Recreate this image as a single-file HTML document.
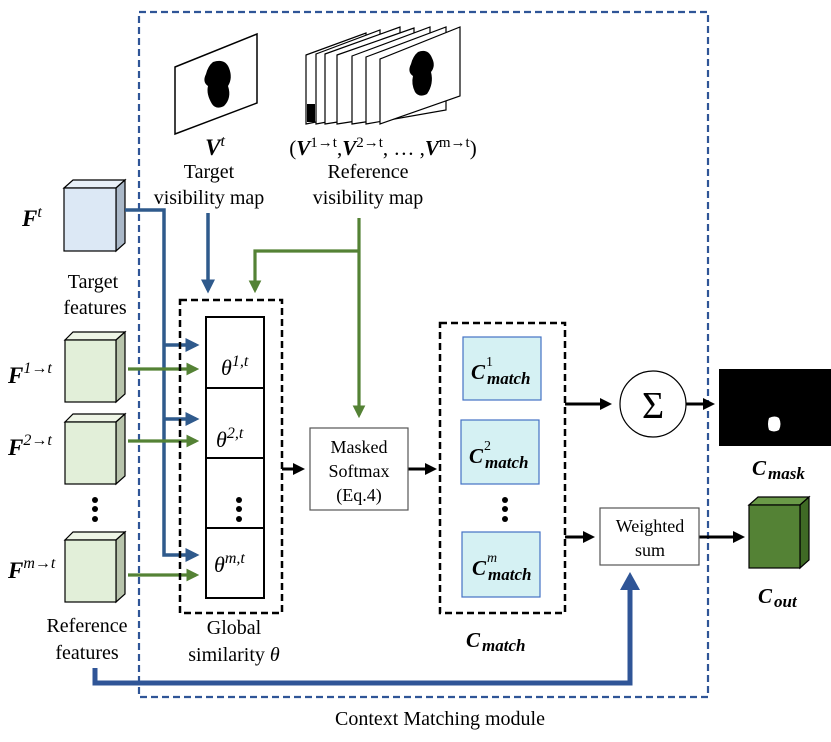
<!DOCTYPE html>
<html><head><style>body{margin:0;background:#fff}svg{display:block}text{font-family:"Liberation Serif",serif;fill:#000}</style></head><body>
<svg width="831" height="742" viewBox="0 0 831 742" xmlns="http://www.w3.org/2000/svg">
<defs>
<marker id="ab" markerWidth="4" markerHeight="4" refX="3" refY="2" orient="auto" markerUnits="strokeWidth"><path d="M0,0L4,2L0,4z" fill="#2f5a8c"/></marker>
<marker id="ag" markerWidth="4" markerHeight="4" refX="3" refY="2" orient="auto" markerUnits="strokeWidth"><path d="M0,0L4,2L0,4z" fill="#548235"/></marker>
<marker id="ak" markerWidth="4" markerHeight="4" refX="3" refY="2" orient="auto" markerUnits="strokeWidth"><path d="M0,0L4,2L0,4z" fill="#000"/></marker>
</defs>
<rect x="139" y="12" width="569" height="685" fill="none" stroke="#2f5597" stroke-width="2.2" stroke-dasharray="7,4"/>
<polygon points="175,67 257,34 257,103 175,134" fill="#fff" stroke="#000" stroke-width="1.5"/>
<path d="M213,62 q12,-4 16,6 q4,10 -1,18 q4,12 -4,20 q-8,4 -12,-2 q-6,-10 -4,-18 q-6,-4 -2,-12 q2,-8 7,-12z" fill="#000"/>
<g stroke="#000" stroke-width="1.2" fill="#fff">
<polygon points="306,55 366,33 366,112 306,124"/>
<polygon points="316,54 380,30 380,112 316,124"/>
<polygon points="325,54 400,27 400,112 325,124"/>
<polygon points="337,55 414,28 414,112 337,124"/>
<polygon points="352,56 430,27 430,112 352,124"/>
<polygon points="366,57 446,27 446,110 366,124"/>
<polygon points="380,59 460,27 460,96 380,124"/>
</g>
<rect x="307" y="104" width="8" height="18" fill="#000"/>
<path d="M418,52 q10,-4 14,6 q4,8 -1,14 q3,12 -4,22 q-8,4 -12,-2 q-4,-8 -2,-16 q-6,-4 -2,-12 q2,-8 7,-12z" fill="#000"/>
<text x="215" y="155" font-size="23" text-anchor="middle" font-weight="bold" font-style="italic">V<tspan font-size="16" dy="-9" font-weight="normal">t</tspan></text>
<text x="209" y="178" font-size="20" text-anchor="middle">Target</text>
<text x="209" y="204" font-size="20" text-anchor="middle">visibility map</text>
<text x="383" y="155" font-size="21" text-anchor="middle">(<tspan font-weight="bold" font-style="italic">V</tspan><tspan font-size="15" dy="-8">1→t</tspan><tspan dy="8">,</tspan><tspan font-weight="bold" font-style="italic">V</tspan><tspan font-size="15" dy="-8">2→t</tspan><tspan dy="8">, … ,</tspan><tspan font-weight="bold" font-style="italic">V</tspan><tspan font-size="15" dy="-8">m→t</tspan><tspan dy="8">)</tspan></text>
<text x="368" y="178" font-size="20" text-anchor="middle">Reference</text>
<text x="368" y="204" font-size="20" text-anchor="middle">visibility map</text>
<g stroke="#000" stroke-width="1.2">
<polygon points="64,188 73,180 125,180 116,188" fill="#e8f0f8"/><polygon points="116,188 125,180 125,243 116,251" fill="#aab8c8"/><rect x="64" y="188" width="52" height="63" fill="#dce8f5"/>
<polygon points="65,340 73,332 125,332 116,340" fill="#eef5e6"/><polygon points="116,340 125,332 125,394 116,402" fill="#b8c4ac"/><rect x="65" y="340" width="51" height="62" fill="#e2efd9"/>
<polygon points="65,422 73,414 125,414 116,422" fill="#eef5e6"/><polygon points="116,422 125,414 125,476 116,484" fill="#b8c4ac"/><rect x="65" y="422" width="51" height="62" fill="#e2efd9"/>
<polygon points="65,540 73,532 125,532 116,540" fill="#eef5e6"/><polygon points="116,540 125,532 125,594 116,602" fill="#b8c4ac"/><rect x="65" y="540" width="51" height="62" fill="#e2efd9"/>
<polygon points="749,505 758,497 809,497 800,505" fill="#6a9a48"/><polygon points="800,505 809,497 809,560 800,568" fill="#3f6a25"/><rect x="749" y="505" width="51" height="63" fill="#548235"/>
</g>
<g fill="#000"><circle cx="95" cy="500" r="3"/><circle cx="95" cy="509" r="3"/><circle cx="95" cy="519" r="3"/>
<circle cx="239" cy="500" r="3"/><circle cx="239" cy="509" r="3"/><circle cx="239" cy="519" r="3"/>
<circle cx="505" cy="500" r="3"/><circle cx="505" cy="509" r="3"/><circle cx="505" cy="519" r="3"/></g>
<g font-size="23" font-weight="bold" font-style="italic">
<text x="22" y="226">F<tspan font-size="16" dy="-9" font-weight="normal">t</tspan></text>
<text x="8" y="383">F<tspan font-size="16" dy="-10" font-weight="normal">1→t</tspan></text>
<text x="8" y="455">F<tspan font-size="16" dy="-10" font-weight="normal">2→t</tspan></text>
<text x="8" y="578">F<tspan font-size="16" dy="-10" font-weight="normal">m→t</tspan></text>
</g>
<text x="93" y="288" font-size="20" text-anchor="middle">Target</text>
<text x="95" y="314" font-size="20" text-anchor="middle">features</text>
<text x="87" y="632" font-size="20" text-anchor="middle">Reference</text>
<text x="87" y="659" font-size="20" text-anchor="middle">features</text>
<g stroke="#2f5a8c" stroke-width="3.5" fill="none">
<polyline points="125,210 164,210 164,555 196,555" marker-end="url(#ab)"/>
<line x1="164" y1="345" x2="196" y2="345" marker-end="url(#ab)"/>
<line x1="164" y1="419" x2="196" y2="419" marker-end="url(#ab)"/>
<line x1="208" y1="213" x2="208" y2="290" marker-end="url(#ab)"/>
</g>
<polyline points="95,668 95,683 630,683 630,588" stroke="#2f5597" stroke-width="5" fill="none"/>
<polygon points="620,590 640,590 630,572" fill="#2f5597"/>
<g stroke="#548235" stroke-width="3.2" fill="none">
<polyline points="359,218 359,415" marker-end="url(#ag)"/>
<polyline points="359,251 255,251 255,290" marker-end="url(#ag)"/>
<line x1="128" y1="369" x2="196" y2="369" marker-end="url(#ag)"/>
<line x1="128" y1="441" x2="196" y2="441" marker-end="url(#ag)"/>
<line x1="128" y1="575" x2="196" y2="575" marker-end="url(#ag)"/>
</g>
<rect x="180" y="300" width="102" height="313" fill="none" stroke="#000" stroke-width="2.5" stroke-dasharray="7,4"/>
<rect x="206" y="317" width="58" height="281" fill="none" stroke="#000" stroke-width="2"/>
<g stroke="#000" stroke-width="2"><line x1="206" y1="388" x2="264" y2="388"/><line x1="206" y1="458" x2="264" y2="458"/><line x1="206" y1="528" x2="264" y2="528"/></g>
<g font-size="22" font-style="italic">
<text x="221" y="375">θ<tspan font-size="16" dy="-9">1,t</tspan></text>
<text x="216" y="447">θ<tspan font-size="16" dy="-9">2,t</tspan></text>
<text x="214" y="572">θ<tspan font-size="16" dy="-9">m,t</tspan></text>
</g>
<text x="234" y="634" font-size="20" text-anchor="middle">Global</text>
<text x="234" y="661" font-size="20" text-anchor="middle">similarity <tspan font-style="italic">θ</tspan></text>
<g stroke="#000" stroke-width="3" fill="none">
<line x1="282" y1="469" x2="302" y2="469" marker-end="url(#ak)"/>
<line x1="408" y1="469" x2="434" y2="469" marker-end="url(#ak)"/>
<line x1="565" y1="404" x2="609" y2="404" marker-end="url(#ak)"/>
<line x1="686" y1="404" x2="712" y2="404" marker-end="url(#ak)"/>
<line x1="565" y1="537" x2="592" y2="537" marker-end="url(#ak)"/>
<line x1="699" y1="537" x2="742" y2="537" marker-end="url(#ak)"/>
</g>
<rect x="310" y="428" width="98" height="82" fill="#fff" stroke="#555" stroke-width="1.2"/>
<text x="359" y="453" font-size="18" text-anchor="middle">Masked</text>
<text x="359" y="477" font-size="18" text-anchor="middle">Softmax</text>
<text x="359" y="501" font-size="18" text-anchor="middle">(Eq.4)</text>
<rect x="440" y="323" width="125" height="290" fill="none" stroke="#000" stroke-width="2.5" stroke-dasharray="7,4"/>
<g fill="#d5f1f3" stroke="#4472c4" stroke-width="1.2">
<rect x="463" y="337" width="78" height="63"/><rect x="461" y="420" width="78" height="64"/><rect x="462" y="532" width="78" height="65"/></g>
<g font-size="21" font-weight="bold" font-style="italic">
<text x="471" y="379">C</text><text x="487" y="384" font-size="17">match</text><text x="486" y="366" font-size="14" font-weight="normal" font-style="normal">1</text>
<text x="469" y="463">C</text><text x="485" y="468" font-size="17">match</text><text x="484" y="450" font-size="14" font-weight="normal" font-style="normal">2</text>
<text x="472" y="575">C</text><text x="488" y="580" font-size="17">match</text><text x="487" y="562" font-size="14" font-weight="normal">m</text>
<text x="466" y="647">C</text><text x="482" y="651" font-size="17">match</text>
<text x="752" y="475">C</text><text x="768" y="479" font-size="17">mask</text>
<text x="758" y="603">C</text><text x="774" y="607" font-size="17">out</text>
</g>
<circle cx="653" cy="404" r="33" fill="#fff" stroke="#000" stroke-width="1.2"/>
<text x="653" y="418" font-size="38" text-anchor="middle" font-family="DejaVu Sans">Σ</text>
<rect x="719" y="369" width="112" height="77" fill="#000"/>
<path d="M769,418 q6,-3 10,0 q3,6 0,12 q-5,3 -10,0 q-2,-6 0,-12z" fill="#fff"/>
<rect x="600" y="508" width="99" height="57" fill="#fff" stroke="#555" stroke-width="1.2"/>
<text x="650" y="532" font-size="18" text-anchor="middle">Weighted</text>
<text x="650" y="556" font-size="18" text-anchor="middle">sum</text>
<text x="440" y="725" font-size="20" text-anchor="middle">Context Matching module</text>
</svg>
</body></html>
